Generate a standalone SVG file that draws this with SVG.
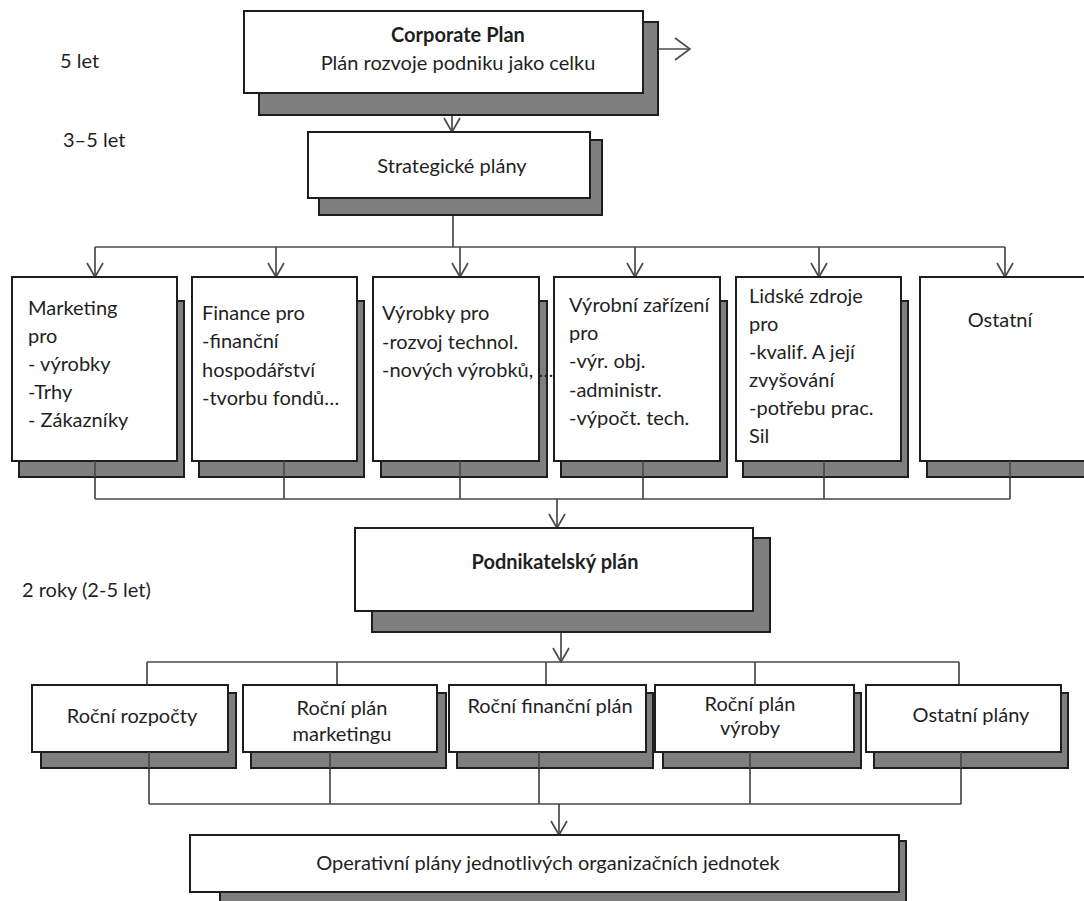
<svg xmlns="http://www.w3.org/2000/svg" width="1084" height="901" viewBox="0 0 1084 901">
  <defs>
    <style>
      .box { fill: #ffffff; stroke: #1e1e1e; stroke-width: 2; }
      .shadow { fill: #7f7f7f; stroke: #1e1e1e; stroke-width: 2; }
      .wire { fill: none; stroke: #4a4a4a; stroke-width: 1.7; }
      .t { font-family: Lato, "Liberation Sans", sans-serif; font-size: 20px; fill: #1f1f1f; }
      .c { text-anchor: middle; }
      .b { font-weight: bold; }
    </style>
    <marker id="arrow" viewBox="0 0 16 18" refX="15" refY="9" markerWidth="16" markerHeight="18" markerUnits="userSpaceOnUse" orient="auto">
      <path d="M1,1 L15,9 L1,17" fill="none" stroke="#4a4a4a" stroke-width="1.7"/>
    </marker>
    <marker id="arrowBig" viewBox="0 0 17 24" refX="16" refY="12" markerWidth="17" markerHeight="24" markerUnits="userSpaceOnUse" orient="auto">
      <path d="M1,1 L16,12 L1,23" fill="none" stroke="#4a4a4a" stroke-width="1.7"/>
    </marker>
  </defs>

  <rect width="1084" height="901" fill="#ffffff"/>

  <!-- time horizon labels -->
  <g id="labels">
    <text class="t" x="60" y="68">5 let</text>
    <text class="t" x="63" y="147">3–5 let</text>
    <text class="t" x="22" y="597">2 roky (2-5 let)</text>
  </g>

  <!-- connectors -->
  <g id="connectors">
    <line class="wire" x1="643" y1="49" x2="690" y2="49" marker-end="url(#arrowBig)"/>
    <line class="wire" x1="452" y1="115" x2="452" y2="132" marker-end="url(#arrow)"/>
    <!-- strategic plans to functional plans -->
    <polyline class="wire" points="453,198 453,247"/>
    <line class="wire" x1="95" y1="247" x2="1005" y2="247"/>
    <line class="wire" x1="95" y1="247" x2="95" y2="277" marker-end="url(#arrow)"/>
    <line class="wire" x1="276" y1="247" x2="276" y2="277" marker-end="url(#arrow)"/>
    <line class="wire" x1="460" y1="247" x2="460" y2="277" marker-end="url(#arrow)"/>
    <line class="wire" x1="635" y1="247" x2="635" y2="277" marker-end="url(#arrow)"/>
    <line class="wire" x1="819" y1="247" x2="819" y2="277" marker-end="url(#arrow)"/>
    <line class="wire" x1="1005" y1="247" x2="1005" y2="277" marker-end="url(#arrow)"/>
    <!-- functional plans to business plan -->
    <path class="wire" d="M95,477 V499 M284,477 V499 M460,477 V499 M643,477 V499 M824,477 V499 M1010,477 V499 M95,499 H1010"/>
    <line class="wire" x1="557" y1="499" x2="557" y2="528" marker-end="url(#arrow)"/>
    <!-- business plan to annual plans -->
    <line class="wire" x1="561" y1="632" x2="561" y2="662" marker-end="url(#arrow)"/>
    <path class="wire" d="M147,662 H959 M147,662 V685 M337,662 V685 M546,662 V685 M755,662 V685 M959,662 V685"/>
    <!-- annual plans to operative plans -->
    <path class="wire" d="M149,768 V804 M330,768 V804 M539,768 V804 M750,768 V804 M961,768 V804 M149,804 H961"/>
    <line class="wire" x1="559" y1="804" x2="559" y2="835" marker-end="url(#arrow)"/>
  </g>

  <g id="corporate-plan">
    <rect class="shadow" x="259" y="22" width="399" height="93"/>
    <rect class="box" x="244" y="11" width="399" height="82"/>
    <text class="t c b" x="458" y="42">Corporate Plan</text>
    <text class="t c" x="458" y="70">Plán rozvoje podniku jako celku</text>
  </g>

  <g id="strategic-plans">
    <rect class="shadow" x="319" y="140" width="283" height="75"/>
    <rect class="box" x="308" y="132" width="282" height="66"/>
    <text class="t c" x="452" y="173">Strategické plány</text>
  </g>

  <g id="marketing">
    <rect class="shadow" x="19" y="301" width="165" height="176"/>
    <rect class="box" x="12" y="277" width="165" height="184"/>
    <path class="wire" d="M95,461 V477"/>
    <text class="t" x="28" y="315">Marketing</text>
    <text class="t" x="28" y="343">pro</text>
    <text class="t" x="28" y="371">- výrobky</text>
    <text class="t" x="28" y="399">-Trhy</text>
    <text class="t" x="28" y="427">- Zákazníky</text>
  </g>

  <g id="finance">
    <rect class="shadow" x="199" y="301" width="165" height="176"/>
    <rect class="box" x="192" y="277" width="165" height="184"/>
    <path class="wire" d="M284,461 V477"/>
    <text class="t" x="202" y="320">Finance pro</text>
    <text class="t" x="202" y="348">-finanční</text>
    <text class="t" x="202" y="377">hospodářství</text>
    <text class="t" x="202" y="405">-tvorbu fondů…</text>
  </g>

  <g id="products">
    <rect class="shadow" x="381" y="301" width="166" height="176"/>
    <rect class="box" x="373" y="277" width="166" height="184"/>
    <path class="wire" d="M460,461 V477"/>
    <text class="t" x="382" y="320">Výrobky pro</text>
    <text class="t" x="382" y="349">-rozvoj technol.</text>
    <text class="t" x="382" y="377">-nových výrobků, …</text>
  </g>

  <g id="facilities">
    <rect class="shadow" x="561" y="301" width="166" height="176"/>
    <rect class="box" x="554" y="277" width="166" height="184"/>
    <path class="wire" d="M643,461 V477"/>
    <text class="t" x="569" y="312">Výrobní zařízení</text>
    <text class="t" x="569" y="340">pro</text>
    <text class="t" x="569" y="368">-výr. obj.</text>
    <text class="t" x="569" y="397">-administr.</text>
    <text class="t" x="569" y="425">-výpočt. tech.</text>
  </g>

  <g id="human-resources">
    <rect class="shadow" x="743" y="301" width="165" height="176"/>
    <rect class="box" x="736" y="277" width="165" height="184"/>
    <path class="wire" d="M824,461 V477"/>
    <text class="t" x="749" y="303">Lidské zdroje</text>
    <text class="t" x="749" y="331">pro</text>
    <text class="t" x="749" y="359">-kvalif. A její</text>
    <text class="t" x="749" y="387">zvyšování</text>
    <text class="t" x="749" y="415">-potřebu prac.</text>
    <text class="t" x="749" y="443">Sil</text>
  </g>

  <g id="other">
    <rect class="shadow" x="927" y="301" width="170" height="176"/>
    <rect class="box" x="920" y="277" width="170" height="184"/>
    <path class="wire" d="M1010,461 V477"/>
    <text class="t c" x="1000" y="327">Ostatní</text>
  </g>

  <g id="business-plan">
    <rect class="shadow" x="372" y="538" width="398" height="94"/>
    <rect class="box" x="355" y="528" width="398" height="83"/>
    <text class="t c b" x="555" y="569">Podnikatelský plán</text>
  </g>

  <g id="annual-budgets">
    <rect class="shadow" x="41" y="693" width="195" height="75"/>
    <rect class="box" x="32" y="685" width="196" height="67"/>
    <path class="wire" d="M149,752 V768"/>
    <text class="t c" x="132" y="723">Roční rozpočty</text>
  </g>

  <g id="annual-marketing">
    <rect class="shadow" x="251" y="693" width="195" height="75"/>
    <rect class="box" x="243" y="685" width="194" height="67"/>
    <path class="wire" d="M330,752 V768"/>
    <text class="t c" x="342" y="715">Roční plán</text>
    <text class="t c" x="342" y="741">marketingu</text>
  </g>

  <g id="annual-finance">
    <rect class="shadow" x="457" y="693" width="196" height="75"/>
    <rect class="box" x="449" y="685" width="197" height="67"/>
    <path class="wire" d="M539,752 V768"/>
    <text class="t c" x="550" y="713">Roční finanční plán</text>
  </g>

  <g id="annual-production">
    <rect class="shadow" x="663" y="693" width="198" height="75"/>
    <rect class="box" x="655" y="685" width="199" height="67"/>
    <path class="wire" d="M750,752 V768"/>
    <text class="t c" x="750" y="711">Roční plán</text>
    <text class="t c" x="750" y="735">výroby</text>
  </g>

  <g id="annual-other">
    <rect class="shadow" x="874" y="693" width="194" height="75"/>
    <rect class="box" x="866" y="685" width="195" height="67"/>
    <path class="wire" d="M961,752 V768"/>
    <text class="t c" x="971" y="722">Ostatní plány</text>
  </g>

  <g id="operative-plans">
    <rect class="shadow" x="220" y="841" width="686" height="70"/>
    <rect class="box" x="190" y="835" width="709" height="57"/>
    <text class="t c" x="548" y="870">Operativní plány jednotlivých organizačních jednotek</text>
  </g>
</svg>
